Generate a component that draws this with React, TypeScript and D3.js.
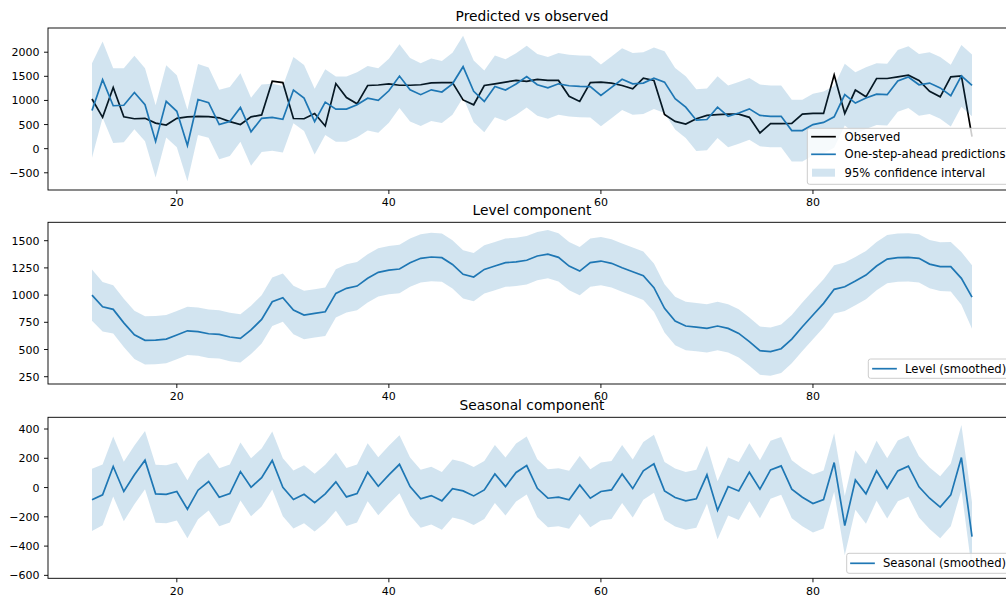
import React from "react";
import * as d3 from "d3";

// ---------- data (x = 12 .. 95) ----------
const X_START = 12;

const observed = [
  1030, 650, 1270, 660, 620, 630, 530, 490, 630, 660,
  670, 665, 640, 560, 500, 660, 700, 1400, 1370, 625,
  620, 730, 470, 1350, 1060, 930, 1310, 1320, 1345, 1315,
  1315, 1325, 1365, 1370, 1370, 1010, 910, 1310, 1345, 1380,
  1415, 1395, 1435, 1415, 1415, 1085, 980, 1370, 1380, 1360,
  1310, 1240, 1460, 1415, 710, 565, 510, 620, 690, 705,
  715, 715, 650, 325, 518, 518, 525, 715, 730, 730,
  1530, 730, 1215, 1075, 1455, 1455, 1490, 1525, 1415, 1190,
  1075, 1490, 1510, 250,
];

const predicted = [
  790, 1430, 890, 900, 1165, 910, 150, 980, 775, 65,
  1020, 955, 500, 565, 855, 350, 630, 650, 610, 1215,
  1050, 560, 965, 820, 820, 910, 1045, 1000, 1200, 1505,
  1220, 1120, 1220, 1175, 1345, 1700, 1190, 980, 1290, 1215,
  1340, 1495, 1325, 1260, 1345, 1305, 1290, 1285, 1105, 1270,
  1440, 1345, 1360, 1460, 1380, 1035, 860, 590, 605, 860,
  670, 740, 825, 690, 670, 670, 375, 375, 500, 545,
  660, 1120, 945, 1050, 1130, 1120, 1405, 1485, 1325, 1360,
  1260, 1100, 1510, 1310,
];

const predictedHalfWidth = [
  980, 790, 775, 765, 760, 755, 750, 748, 745, 742,
  735, 728, 720, 715, 710, 705, 700, 695, 690, 688,
  685, 682, 680, 678, 675, 672, 670, 668, 665, 662,
  658, 652, 648, 645, 642, 640, 640, 640, 640, 640,
  640, 640, 640, 640, 640, 640, 640, 640, 640, 640,
  640, 640, 640, 640, 640, 640, 640, 640, 640, 640,
  640, 640, 640, 640, 640, 640, 640, 640, 640, 640,
  640, 640, 640, 640, 640, 640, 640, 640, 640, 640,
  640, 640, 640, 640,
];

const level = [
  1000, 893, 869, 745, 635, 584, 587, 596, 633, 672,
  664, 645, 639, 615, 602, 680, 777, 939, 976, 863,
  817, 832, 847, 1016, 1062, 1083, 1154, 1209, 1230, 1240,
  1298, 1338, 1350, 1344, 1282, 1191, 1166, 1236, 1267, 1298,
  1305, 1320, 1359, 1377, 1347, 1267, 1221, 1298, 1313, 1292,
  1252, 1215, 1178, 1068, 878, 762, 716, 706, 694, 716,
  694, 648, 572, 489, 480, 507, 596, 709, 817, 924,
  1053, 1077, 1129, 1184, 1267, 1331, 1344, 1347, 1338, 1285,
  1261, 1261, 1154, 982,
];

const levelHalfWidth = [
  235, 228, 222, 222, 222, 222, 222, 222, 222, 222,
  222, 222, 222, 222, 222, 222, 222, 222, 222, 222,
  222, 222, 222, 222, 222, 222, 222, 222, 222, 222,
  222, 222, 222, 222, 222, 222, 222, 222, 222, 222,
  222, 222, 222, 222, 222, 222, 222, 222, 222, 222,
  222, 222, 222, 222, 222, 222, 222, 222, 222, 222,
  222, 222, 222, 222, 222, 222, 222, 222, 222, 222,
  222, 222, 222, 222, 222, 222, 222, 222, 222, 222,
  224, 228, 242, 292,
];

const seasonal = [
  -84, -50, 144, -27, 87, 187, -43, -46, -27, -148,
  -18, 41, -66, -41, 109, 2, 68, 185, 2, -82,
  -46, -103, -43, 39, -64, -41, 105, 9, 87, 159,
  7, -77, -55, -91, -7, -23, -57, -16, 93, 7,
  103, 150, -5, -73, -66, -84, 18, -73, -27, -16,
  93, -7, 114, 162, -23, -68, -91, -77, 87, -155,
  7, -23, 105, -11, 121, 148, -11, -66, -109, -82,
  171, -260, 52, -43, 114, -5, 114, 146, 5, -73,
  -134, -50, 205, -335,
];

const seasonalHalfWidth = [
  212, 208, 205, 203, 201, 199, 198, 198, 198, 198,
  198, 198, 198, 198, 198, 198, 198, 198, 198, 198,
  198, 198, 198, 198, 198, 198, 198, 198, 198, 198,
  198, 198, 198, 198, 198, 198, 198, 198, 198, 198,
  198, 198, 198, 198, 198, 198, 198, 198, 198, 198,
  198, 198, 198, 198, 198, 198, 198, 198, 198, 198,
  198, 198, 198, 198, 198, 198, 198, 198, 198, 198,
  200, 202, 203, 204, 205, 206, 207, 208, 209, 210,
  212, 215, 222, 235,
];

const xTicks = [20, 40, 60, 80];
const predTicks = [-500, 0, 500, 1000, 1500, 2000];
const levelTicks = [250, 500, 750, 1000, 1250, 1500];
const seasonalTicks = [-600, -400, -200, 0, 200, 400];

const xDomain = [7.85, 99.15];
const predDomain = [-857, 2502];
const levelDomain = [183, 1669];
const seasonalDomain = [-620, 480];

const titles = ["Predicted vs observed", "Level component", "Seasonal component"];
const predLegend = ["Observed", "One-step-ahead predictions", "95% confidence interval"];
const levelLegend = ["Level (smoothed)"];
const seasonalLegend = ["Seasonal (smoothed)"];

// ---------- layout ----------
const W = 1006;
const H = 597;
const AX_LEFT = 48;
const AX_RIGHT = 1016;
const C0 = "#1f77b4";
const FONT = "DejaVu Sans, sans-serif";
const TICK_FS = 11;
const LEG_FS = 11.6;
const TITLE_FS = 13.8;
const SPINE_W = 0.92;
const LINE_W = 1.7;

const x = d3.scaleLinear().domain(xDomain).range([AX_LEFT, AX_RIGHT]);
const fmt = d3.format("d");

type PanelProps = {
  id: string;
  top: number;
  bottom: number;
  domain: number[];
  ticks: number[];
  title: string;
  children: (y: d3.ScaleLinear<number, number>) => React.ReactNode;
};

function Panel({ id, top, bottom, domain, ticks, title, children }: PanelProps) {
  const y = d3.scaleLinear().domain(domain).range([bottom, top]);
  return (
    <g>
      <defs>
        <clipPath id={id}>
          <rect x={AX_LEFT} y={top} width={AX_RIGHT - AX_LEFT} height={bottom - top} />
        </clipPath>
      </defs>
      <g clipPath={`url(#${id})`}>{children(y)}</g>
      {/* spines */}
      <rect
        x={AX_LEFT}
        y={top}
        width={AX_RIGHT - AX_LEFT}
        height={bottom - top}
        fill="none"
        stroke="#000"
        strokeWidth={SPINE_W}
      />
      {/* y ticks */}
      {ticks.map((t) => (
        <g key={"y" + t}>
          <line x1={AX_LEFT - 4} x2={AX_LEFT} y1={y(t)} y2={y(t)} stroke="#000" strokeWidth={SPINE_W} />
          <text
            x={AX_LEFT - 8.6}
            y={y(t) + 4}
            textAnchor="end"
            fontFamily={FONT}
            fontSize={TICK_FS}
            fill="#000"
          >
            {fmt(t)}
          </text>
        </g>
      ))}
      {/* x ticks */}
      {xTicks.map((t) => (
        <g key={"x" + t}>
          <line x1={x(t)} x2={x(t)} y1={bottom} y2={bottom + 4} stroke="#000" strokeWidth={SPINE_W} />
          <text
            x={x(t)}
            y={bottom + 16.3}
            textAnchor="middle"
            fontFamily={FONT}
            fontSize={TICK_FS}
            fill="#000"
          >
            {fmt(t)}
          </text>
        </g>
      ))}
      <text
        x={(AX_LEFT + AX_RIGHT) / 2}
        y={top - 6.9}
        textAnchor="middle"
        fontFamily={FONT}
        fontSize={TITLE_FS}
        fill="#000"
      >
        {title}
      </text>
    </g>
  );
}

type LegendItem = { label: string; kind: "line" | "patch"; color: string };

function Legend({ left, top, height, items, handleX, textX, rowY }: {
  left: number;
  top: number;
  height: number;
  items: LegendItem[];
  handleX: number;
  textX: number;
  rowY: number[];
}) {
  const right = AX_RIGHT - 5.8;
  return (
    <g>
      <rect
        x={left}
        y={top}
        width={right - left}
        height={height}
        rx={2.3}
        ry={2.3}
        fill="#fff"
        fillOpacity={0.8}
        stroke="#cccccc"
        strokeWidth={1}
      />
      {items.map((it, i) => (
        <g key={it.label}>
          {it.kind === "line" ? (
            <line
              x1={handleX}
              x2={handleX + 23}
              y1={rowY[i]}
              y2={rowY[i]}
              stroke={it.color}
              strokeWidth={LINE_W}
              strokeLinecap="square"
            />
          ) : (
            <rect x={handleX} y={rowY[i] - 4} width={23} height={8} fill={it.color} fillOpacity={0.2} />
          )}
          <text x={textX} y={rowY[i] + 4} fontFamily={FONT} fontSize={LEG_FS} fill="#000">
            {it.label}
          </text>
        </g>
      ))}
    </g>
  );
}

function lineGen(y: d3.ScaleLinear<number, number>) {
  return d3
    .line<number>()
    .x((_, i) => x(X_START + i))
    .y((d) => y(d));
}

function bandGen(y: d3.ScaleLinear<number, number>, mid: number[], hw: number[]) {
  return d3
    .area<number>()
    .x((_, i) => x(X_START + i))
    .y0((_, i) => y(mid[i] - hw[i]))
    .y1((_, i) => y(mid[i] + hw[i]));
}

export default function App() {
  return (
    <svg
      width={W}
      height={H}
      viewBox={`0 0 ${W} ${H}`}
      style={{ position: "absolute", left: 0, top: 0, background: "#fff" }}
    >
      <rect x={0} y={0} width={W} height={H} fill="#fff" />

      <Panel id="clipTop" top={28} bottom={190} domain={predDomain} ticks={predTicks} title={titles[0]}>
        {(y) => (
          <>
            <path d={lineGen(y)(observed) || ""} fill="none" stroke="#000" strokeWidth={LINE_W} />
            <path d={lineGen(y)(predicted) || ""} fill="none" stroke={C0} strokeWidth={LINE_W} />
            <path d={bandGen(y, predicted, predictedHalfWidth)(predicted) || ""} fill={C0} fillOpacity={0.2} />
          </>
        )}
      </Panel>

      <Panel id="clipMid" top={222.3} bottom={384} domain={levelDomain} ticks={levelTicks} title={titles[1]}>
        {(y) => (
          <>
            <path d={lineGen(y)(level) || ""} fill="none" stroke={C0} strokeWidth={LINE_W} />
            <path d={bandGen(y, level, levelHalfWidth)(level) || ""} fill={C0} fillOpacity={0.2} />
          </>
        )}
      </Panel>

      <Panel id="clipBot" top={417.3} bottom={578.3} domain={seasonalDomain} ticks={seasonalTicks} title={titles[2]}>
        {(y) => (
          <>
            <path d={lineGen(y)(seasonal) || ""} fill="none" stroke={C0} strokeWidth={LINE_W} />
            <path d={bandGen(y, seasonal, seasonalHalfWidth)(seasonal) || ""} fill={C0} fillOpacity={0.2} />
          </>
        )}
      </Panel>

      <Legend
        left={807.3}
        top={128.3}
        height={56}
        handleX={812}
        textX={844.5}
        rowY={[136.7, 154.3, 172.7]}
        items={[
          { label: predLegend[0], kind: "line", color: "#000" },
          { label: predLegend[1], kind: "line", color: C0 },
          { label: predLegend[2], kind: "patch", color: C0 },
        ]}
      />
      <Legend
        left={868.3}
        top={359}
        height={19.3}
        handleX={873}
        textX={905}
        rowY={[368.7]}
        items={[{ label: levelLegend[0], kind: "line", color: C0 }]}
      />
      <Legend
        left={846.7}
        top={553.3}
        height={20}
        handleX={851}
        textX={883}
        rowY={[563.3]}
        items={[{ label: seasonalLegend[0], kind: "line", color: C0 }]}
      />
    </svg>
  );
}
